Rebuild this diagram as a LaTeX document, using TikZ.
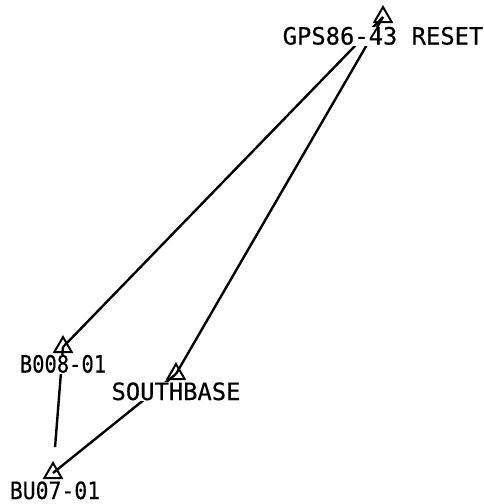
\documentclass[tikz,border=0pt]{standalone}
\usepackage{fontspec}
\setmonofont[FakeBold=0.4]{DejaVu Sans Mono}
\usetikzlibrary{shapes.geometric}
\tikzset{
  station/.style={draw,regular polygon,regular polygon sides=3,minimum size=20pt,inner sep=0pt,line width=2pt},
  sitename/.style={fill=white,inner sep=1pt,text height=17pt,text depth=0pt,font=\fontsize{23.8pt}{24pt}\ttfamily},
  baseline/.style={line width=2.4pt}
}
\begin{document}
\begin{tikzpicture}[x=1pt,y=-1pt]
   \useasboundingbox (0,0) rectangle (484,504);
   \node[station] (gps) at (383,17) {};
   \node[station] (boo) at (63,347) {};
   \node[station] (sou) at (176,374) {};
   \node[station] (buo) at (53,473) {};
   \path[baseline]
   (gps.center) edge (boo.center)
   (gps.center) edge (sou.center)
   (boo.center) edge [shorten >=26pt] (buo.center)
   (sou.center) edge (buo.center);
   \node[sitename] (gps-l) at (383,36) {GPS86-43 RESET};
   \node[sitename] (boo-l) at (63,364) {\scalebox{.86}[1]{B008-01}};
   \node[sitename] (sou-l) at (176,391.5) {SOUTHBASE};
   \node[sitename] (buo-l) at (55,490.5) {\scalebox{.9}[1]{BU07-01}};
\end{tikzpicture}
\end{document}
